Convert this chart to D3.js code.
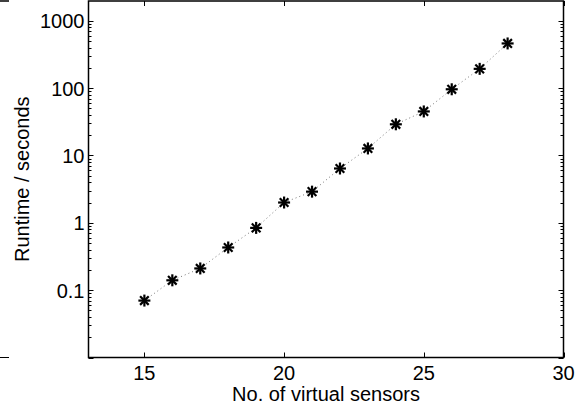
<!DOCTYPE html>
<html><head><meta charset="utf-8">
<script src="https://cdn.jsdelivr.net/npm/d3@7"></script>
<style>
html,body{margin:0;padding:0;background:#fff;}
svg{display:block;}
text{font-family:"Liberation Sans",Arial,sans-serif;fill:#000;}
</style></head>
<body>
<svg id="chart" width="586" height="408"></svg>
<script>
const sensors = [15,16,17,18,19,20,21,22,23,24,25,26,27,28];
const runtimes = [0.07,0.14,0.21,0.43,0.84,2.0,2.9,6.4,12.7,29,45,96,193,460];
const xTicks = [15,20,25,30];
const yTicks = [0.1,1,10,100,1000];
const yTickLabels = ["0.1","1","10","100","1000"];
const xLabel = "No. of virtual sensors";
const yLabel = "Runtime / seconds";

const svg = d3.select("#chart");
const L=88.5, R=563.5, T=1, B=357.5;
const FS=20;
const x = d3.scaleLinear().domain([13,30]).range([L,R]);
const y = d3.scaleLog().domain([0.01,1963]).range([B,T]);

// minor ticks
const minor=[];
for(let e=-2;e<=3;e++){for(let m=2;m<=9;m++){const v=m*Math.pow(10,e); if(v<1963) minor.push(v);}}
const g = svg.append("g");
g.selectAll(".mnl").data(minor).join("line")
 .attr("x1",L).attr("x2",L+3).attr("y1",d=>Math.round(y(d))+0.5).attr("y2",d=>Math.round(y(d))+0.5)
 .attr("stroke","#000").attr("stroke-width",1);
g.selectAll(".mnr").data(minor).join("line")
 .attr("x1",R).attr("x2",R-3).attr("y1",d=>Math.round(y(d))+0.5).attr("y2",d=>Math.round(y(d))+0.5)
 .attr("stroke","#000").attr("stroke-width",1);
[0.01].concat(yTicks).forEach(v=>{
  const yy=Math.round(y(v))+0.5;
  g.append("line").attr("x1",L).attr("x2",L+5).attr("y1",yy).attr("y2",yy).attr("stroke","#000");
  g.append("line").attr("x1",R).attr("x2",R-5).attr("y1",yy).attr("y2",yy).attr("stroke","#000");
});
xTicks.forEach(v=>{
  const xx=Math.round(x(v))+0.5;
  g.append("line").attr("x1",xx).attr("x2",xx).attr("y1",B).attr("y2",B-5).attr("stroke","#000");
  g.append("line").attr("x1",xx).attr("x2",xx).attr("y1",T).attr("y2",T+5).attr("stroke","#000");
});
// box
svg.append("rect").attr("x",L).attr("y",T).attr("width",R-L).attr("height",B-T)
 .attr("fill","none").attr("stroke","#000").attr("stroke-width",1.5);

// tick labels
svg.selectAll(".xl").data(xTicks).join("text")
 .attr("x",d=>x(d)).attr("y",B+22).attr("text-anchor","middle").attr("font-size",FS).text(d=>d);
svg.selectAll(".yl").data(yTicks).join("text")
 .attr("x",L-4).attr("y",d=>y(d)+7.5).attr("text-anchor","end").attr("font-size",FS)
 .text((d,i)=>yTickLabels[i]);

// axis labels
svg.append("text").attr("x",(L+R)/2).attr("y",B+43).attr("text-anchor","middle").attr("font-size",FS).text(xLabel);
svg.append("text").attr("transform",`translate(29,${(T+B)/2}) rotate(-90)`).attr("text-anchor","middle").attr("font-size",FS).text(yLabel);

// dotted line
const line = d3.line().x((d,i)=>x(sensors[i])).y(d=>y(d));
svg.append("path").attr("d",line(runtimes)).attr("fill","none").attr("stroke","#777")
 .attr("stroke-width",1).attr("stroke-dasharray","1 3");

// asterisk markers
const s=6;
const mk = svg.selectAll(".mk").data(runtimes).join("g")
 .attr("transform",(d,i)=>`translate(${x(sensors[i])},${y(d)})`);
[[0,-s,0,s],[-s,0,s,0],[-s*0.72,-s*0.72,s*0.72,s*0.72],[-s*0.72,s*0.72,s*0.72,-s*0.72]].forEach(c=>{
  mk.append("line").attr("x1",c[0]).attr("y1",c[1]).attr("x2",c[2]).attr("y2",c[3])
   .attr("stroke","#000").attr("stroke-width",2.2);
});

// cropped-figure remnants at left edge
svg.append("line").attr("x1",0).attr("x2",9).attr("y1",1).attr("y2",1).attr("stroke","#000").attr("stroke-width",1.5);
svg.append("line").attr("x1",0).attr("x2",9).attr("y1",357.5).attr("y2",357.5).attr("stroke","#000").attr("stroke-width",1);
</script>
</body></html>
